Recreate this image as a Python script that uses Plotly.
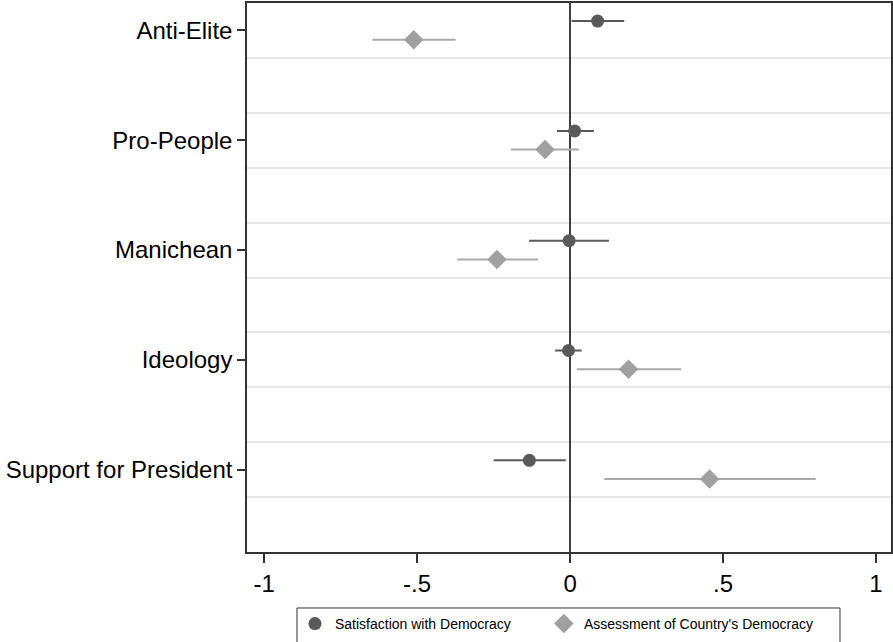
import plotly.graph_objects as go

categories = ["Anti-Elite", "Pro-People", "Manichean", "Ideology", "Support for President"]

# Satisfaction with Democracy (circles)
sat_est = [0.090, 0.015, -0.003, -0.005, -0.133]
sat_lo = [0.005, -0.043, -0.134, -0.049, -0.250]
sat_hi = [0.177, 0.078, 0.127, 0.038, -0.014]

# Assessment of Country's Democracy (diamonds)
ass_est = [-0.511, -0.082, -0.239, 0.191, 0.456]
ass_lo = [-0.646, -0.193, -0.369, 0.022, 0.112]
ass_hi = [-0.374, 0.029, -0.105, 0.363, 0.803]

xtick_vals = [-1, -0.5, 0, 0.5, 1]
xtick_text = ["-1", "-.5", "0", ".5", "1"]

pos = list(range(1, len(categories) + 1))
off = 0.085
y_sat = [p - off for p in pos]
y_ass = [p + off for p in pos]

FONT = "Liberation Sans, Arial, sans-serif"
C_SAT = "#5a5a5a"
C_ASS = "#a0a0a0"

fig = go.Figure()
fig.add_trace(go.Scatter(
    x=sat_est, y=y_sat, mode="markers", name="Satisfaction with Democracy",
    marker=dict(symbol="circle", size=13, color=C_SAT), legend="legend",
    error_x=dict(type="data", symmetric=False,
                 array=[h - e for h, e in zip(sat_hi, sat_est)],
                 arrayminus=[e - l for e, l in zip(sat_est, sat_lo)],
                 color=C_SAT, thickness=2, width=0),
))
fig.add_trace(go.Scatter(
    x=ass_est, y=y_ass, mode="markers", name="Assessment of Country's Democracy",
    marker=dict(symbol="diamond", size=15, color=C_ASS), legend="legend2",
    error_x=dict(type="data", symmetric=False,
                 array=[h - e for h, e in zip(ass_hi, ass_est)],
                 arrayminus=[e - l for e, l in zip(ass_est, ass_lo)],
                 color="#aaaaaa", thickness=2, width=0),
))

grid_vals = []
for p in pos:
    grid_vals += [p + 0.25, p + 0.75]

leg_common = dict(orientation="h", xanchor="left", y=-0.102, yanchor="top",
                  bgcolor="rgba(0,0,0,0)", borderwidth=0,
                  font=dict(size=14, family=FONT), itemsizing="trace")

fig.update_layout(
    width=893, height=642,
    margin=dict(l=247, r=2, t=3, b=90, autoexpand=False),
    paper_bgcolor="white", plot_bgcolor="white",
    font=dict(family=FONT, color="black"),
    showlegend=True,
    legend=dict(x=0.0745, **leg_common),
    legend2=dict(x=0.461, **leg_common),
    shapes=[dict(type="rect", xref="paper", yref="paper",
                 x0=0.0776, x1=0.9208, y0=-0.1785, y1=-0.102,
                 line=dict(color="#333333", width=1), fillcolor="rgba(0,0,0,0)",
                 layer="below")],
)
fig.update_xaxes(
    range=[-1.056, 1.049], tickvals=xtick_vals, ticktext=xtick_text,
    tickfont=dict(size=24), ticks="outside", ticklen=9, tickwidth=1.5, tickcolor="#333333",
    showgrid=False, zeroline=True, zerolinecolor="#404040", zerolinewidth=2,
    showline=True, mirror=True, linecolor="#333333", linewidth=1.5, automargin=False,
)
fig.update_yaxes(
    range=[5.75, 0.75], tickvals=pos, ticktext=categories,
    tickfont=dict(size=24), ticks="outside", ticklen=8, tickwidth=1.5, tickcolor="#333333",
    showgrid=False, zeroline=False,
    minor=dict(tickmode="array", tickvals=grid_vals, showgrid=True,
               gridcolor="#e6e6e6", gridwidth=2, ticks=""),
    showline=True, mirror=True, linecolor="#333333", linewidth=1.5, automargin=False,
)

fig.write_html("out.html", config={"displayModeBar": False},
               post_script="document.body.style.margin='0px';")
